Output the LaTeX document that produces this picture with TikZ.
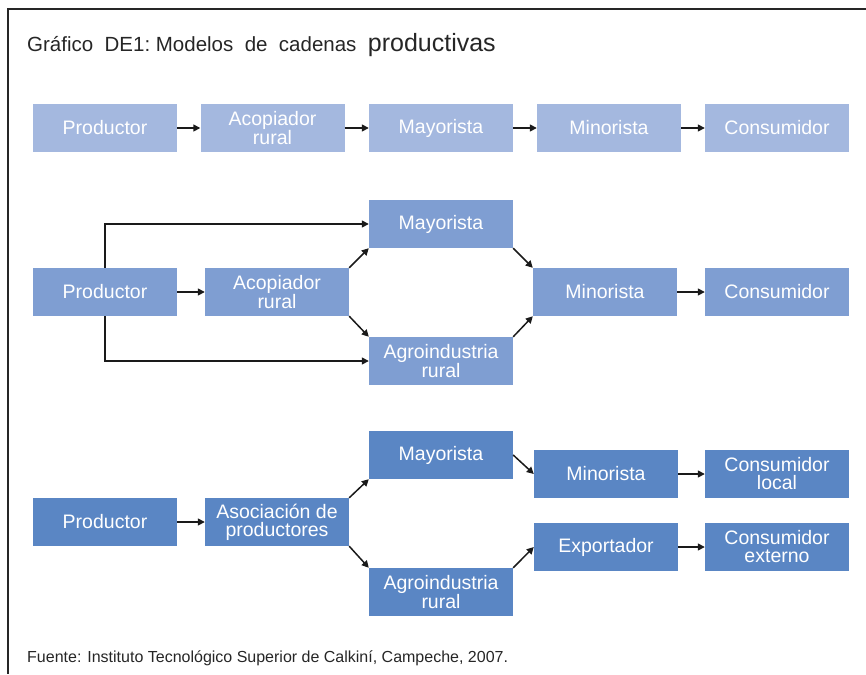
\documentclass[tikz,border=0pt]{standalone}
\usepackage{fontspec}
\setmainfont{Liberation Sans}
\usetikzlibrary{arrows.meta, positioning}
\usepackage{xcolor}
\definecolor{azulA}{HTML}{A4B8DF}
\definecolor{azulB}{HTML}{7F9ED2}
\definecolor{azulC}{HTML}{5A86C4}
\definecolor{flecha}{HTML}{1A1A1A}

\begin{document}
\begin{tikzpicture}[x=1pt, y=-1pt,
    caja/.style={minimum width=144pt, minimum height=48pt, inner sep=0pt,
        text=white, align=center, font=\fontsize{19.5}{18}\selectfont},
    filaA/.style={caja, fill=azulA},
    filaB/.style={caja, fill=azulB},
    filaC/.style={caja, fill=azulC},
    conector/.style={draw=flecha, line width=1.5pt,
        -{Triangle[length=7pt,width=7pt]}}]
    \useasboundingbox (0,0) rectangle (866,674);
    \draw[line width=2.5pt, color=black!85] (866,9) -- (8,9) -- (8,674);

    \node[anchor=base west, inner sep=0pt, text=black!85, font=\fontsize{20.5}{24}\selectfont] (titulo) at (27,52)
        {Gráfico\ \ DE1:\ Modelos\ \ de\ \ cadenas\ \ {\fontsize{25}{26}\selectfont productivas}};

    % modelo 1
    \node[filaA] (pA) at (105,128) {Productor};
    \node[filaA] (acA) at (272.5,128) {Acopiador\\rural};
    \node[filaA] (maA) at (441,128) {Mayorista};
    \node[filaA] (miA) at (609,128) {Minorista};
    \node[filaA] (coA) at (777,128) {Consumidor};
    \draw[conector] (pA) -- (acA);
    \draw[conector] (acA) -- (maA);
    \draw[conector] (maA) -- (miA);
    \draw[conector] (miA) -- (coA);

    % modelo 2
    \node[filaB] (pB) at (105,292) {Productor};
    \node[filaB] (acB) at (277,292) {Acopiador\\rural};
    \node[filaB] (maB) at (441,224) {Mayorista};
    \node[filaB] (agB) at (441,361) {Agroindustria\\rural};
    \node[filaB] (miB) at (605,292) {Minorista};
    \node[filaB] (coB) at (777,292) {Consumidor};
    \draw[conector] (pB) -- (acB);
    \draw[conector] (pB.north) |- (maB.west);
    \draw[conector] (pB.south) |- (agB.west);
    \draw[conector] (acB.north east) -- (maB.south west);
    \draw[conector] (acB.south east) -- (agB.north west);
    \draw[conector] (maB.south east) -- (miB.north west);
    \draw[conector] (agB.north east) -- (miB.south west);
    \draw[conector] (miB) -- (coB);

    % modelo 3
    \node[filaC] (pC) at (105,522) {Productor};
    \node[filaC] (asC) at (277,522) {Asociación\ de\\productores};
    \node[filaC] (maC) at (441,455) {Mayorista};
    \node[filaC] (agC) at (441,592) {Agroindustria\\rural};
    \node[filaC] (miC) at (606,474) {Minorista};
    \node[filaC] (exC) at (606,547) {Exportador};
    \node[filaC] (clC) at (777,474) {Consumidor\\local};
    \node[filaC] (ceC) at (777,547) {Consumidor\\externo};
    \draw[conector] (pC) -- (asC);
    \draw[conector] (asC.north east) -- (maC.south west);
    \draw[conector] (asC.south east) -- (agC.north west);
    \draw[conector] (maC.east) -- (miC.west);
    \draw[conector] (agC.north east) -- (exC.west);
    \draw[conector] (miC) -- (clC);
    \draw[conector] (exC) -- (ceC);

    \node[anchor=base west, inner sep=0pt, text=black!85, font=\fontsize{16}{18}\selectfont] (fuente) at (27,662)
        {Fuente: Instituto\ Tecnológico\ Superior de Calkiní, Campeche, 2007.};
\end{tikzpicture}
\end{document}
